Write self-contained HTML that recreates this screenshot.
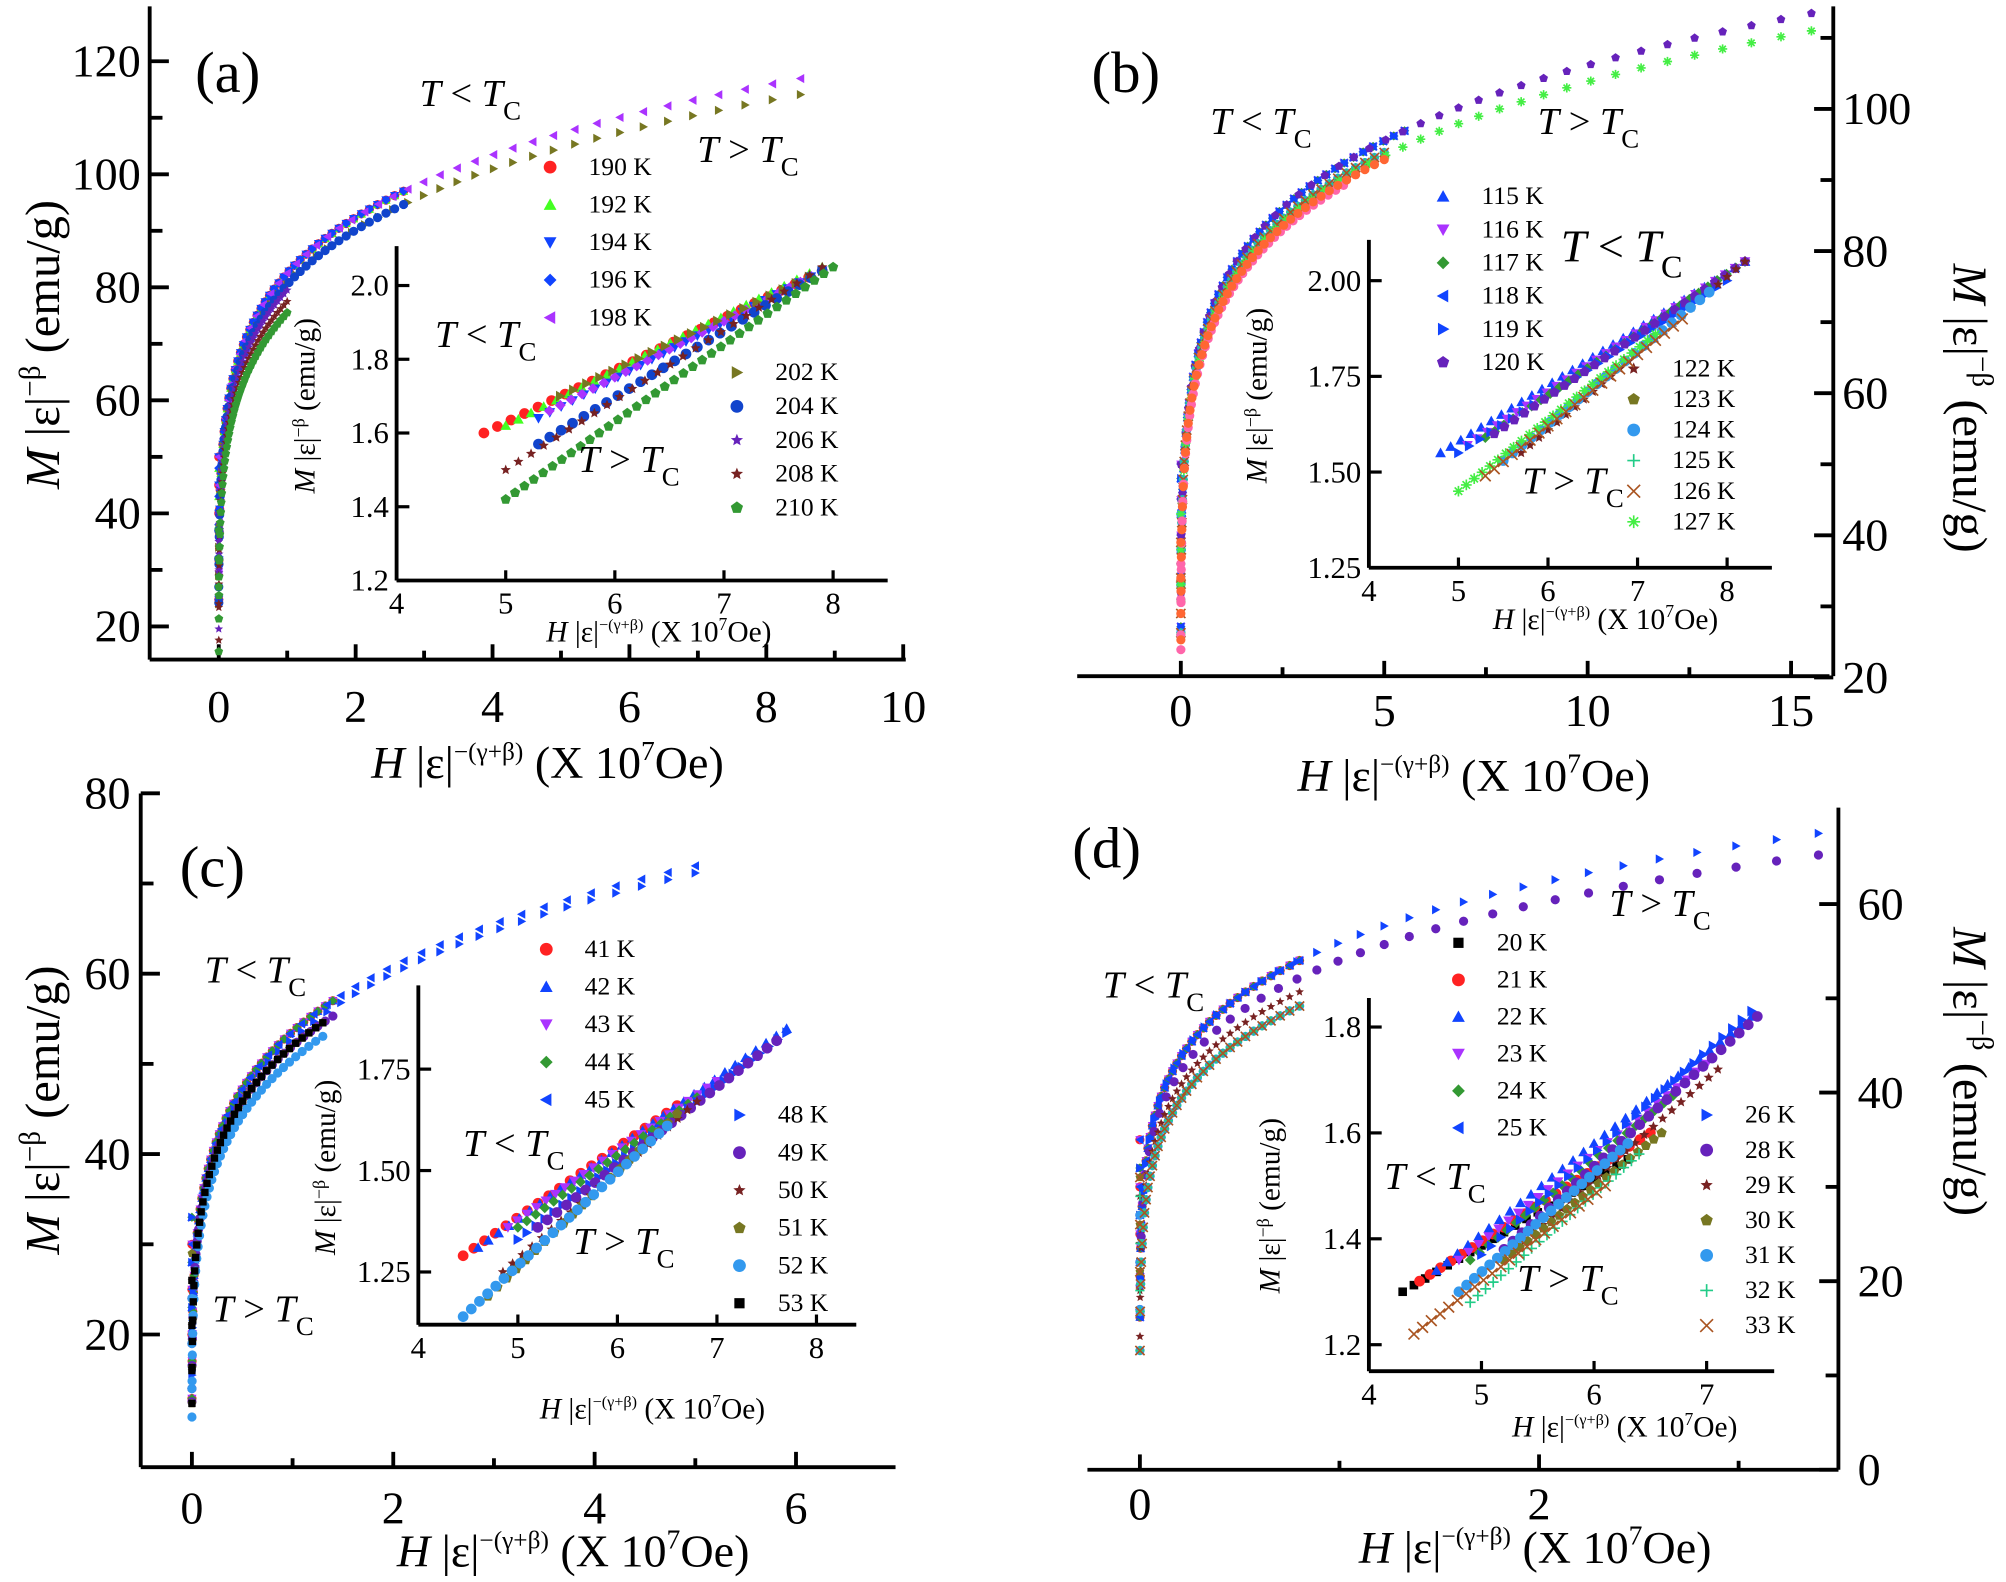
<!DOCTYPE html><html><head><meta charset="utf-8"><style>
html,body{margin:0;padding:0;background:#fff}
svg{display:block}
text{font-family:"Liberation Serif",serif;fill:#000}
</style></head><body>
<svg id="s" width="2006" height="1582" viewBox="0 0 1568 1240" preserveAspectRatio="none" xmlns="http://www.w3.org/2000/svg"></svg>
<script>
const S=document.getElementById('s');let out='';
function L(x1,y1,x2,y2,w){out+=`<line x1="${x1}" y1="${y1}" x2="${x2}" y2="${y2}" stroke="#000" stroke-width="${w||3}"/>`;}
function T(x,y,s,fs,anc,extra){out+=`<text x="${x}" y="${y}" font-size="${fs}" text-anchor="${anc||'middle'}" ${extra||''}>${s}</text>`;}
function mk(shape,x,y,r,c){
 r=r||4;
 if(shape=='o')out+=`<circle cx="${x}" cy="${y}" r="${r}" fill="${c}"/>`;
 else if(shape=='^')out+=`<polygon points="${x},${y-r} ${x+r},${y+r*.8} ${x-r},${y+r*.8}" fill="${c}"/>`;
 else if(shape=='v')out+=`<polygon points="${x},${y+r} ${x+r},${y-r*.8} ${x-r},${y-r*.8}" fill="${c}"/>`;
 else if(shape=='d')out+=`<polygon points="${x},${y-r} ${x+r},${y} ${x},${y+r} ${x-r},${y}" fill="${c}"/>`;
 else if(shape=='<')out+=`<polygon points="${x-r},${y} ${x+r*.8},${y-r} ${x+r*.8},${y+r}" fill="${c}"/>`;
 else if(shape=='>')out+=`<polygon points="${x+r},${y} ${x-r*.8},${y-r} ${x-r*.8},${y+r}" fill="${c}"/>`;
 else if(shape=='p'){let p=[];for(let i=0;i<5;i++){let a=-Math.PI/2+i*2*Math.PI/5;p.push((x+r*Math.cos(a)).toFixed(1)+','+(y+r*Math.sin(a)).toFixed(1));}out+=`<polygon points="${p.join(' ')}" fill="${c}"/>`;}
 else if(shape=='*'){let p=[];for(let i=0;i<10;i++){let a=-Math.PI/2+i*Math.PI/5,rr=i%2?r*.45:r;p.push((x+rr*Math.cos(a)).toFixed(1)+','+(y+rr*Math.sin(a)).toFixed(1));}out+=`<polygon points="${p.join(' ')}" fill="${c}"/>`;}
 else if(shape=='s')out+=`<rect x="${x-r*.8}" y="${y-r*.8}" width="${r*1.6}" height="${r*1.6}" fill="${c}"/>`;
 else if(shape=='+')out+=`<path d="M${x-r} ${y}H${x+r}M${x} ${y-r}V${y+r}" stroke="${c}" stroke-width="1.3"/>`;
 else if(shape=='x')out+=`<path d="M${x-r} ${y-r}L${x+r} ${y+r}M${x-r} ${y+r}L${x+r} ${y-r}" stroke="${c}" stroke-width="1.3"/>`;
 else if(shape=='#')out+=`<path d="M${x-r} ${y}H${x+r}M${x} ${y-r}V${y+r}M${x-r*.7} ${y-r*.7}L${x+r*.7} ${y+r*.7}M${x-r*.7} ${y+r*.7}L${x+r*.7} ${y-r*.7}" stroke="${c}" stroke-width="1.3"/>`;
}
function Mlab(x,y,fs,rot){
 out+=`<text transform="translate(${x},${y}) rotate(${rot})" font-size="${fs}" text-anchor="middle"><tspan font-style="italic">M</tspan> |ε|<tspan dy="${-fs*.4}" font-size="${fs*.6}">−β</tspan><tspan dy="${fs*.4}"> (emu/g)</tspan></text>`;
}
function Hlab(x,y,fs){
 out+=`<text x="${x}" y="${y}" font-size="${fs}" text-anchor="middle"><tspan font-style="italic">H</tspan> |ε|<tspan dy="${-fs*.4}" font-size="${fs*.55}">−(γ+β)</tspan><tspan dy="${fs*.4}"> (X 10</tspan><tspan dy="${-fs*.4}" font-size="${fs*.6}">7</tspan><tspan dy="${fs*.4}">Oe)</tspan></text>`;
}
function TT(x,y,fs,op){
 out+=`<text x="${x}" y="${y}" font-size="${fs}"><tspan font-style="italic">T</tspan> ${op} <tspan font-style="italic">T</tspan><tspan dy="${fs*.35}" font-size="${fs*.7}">C</tspan></text>`;
}
function curve(hx,vy,A,p,hmax,series,ends,n){
 series.forEach((s,k)=>{
  let off=s[2]||0;let he=s[3]||hmax;
  for(let i=1;i<=n;i++){
   let h=he*Math.pow(i/n,2.2);
   let m=A*Math.pow(h,p)-off;
   mk(s[0],hx(h),vy(m),3.6,s[1]);
  }
  for(let j=0;j<3;j++){mk(s[0],hx(0),vy(ends[k%ends.length]+j*5),3.6,s[1]);}
 });
}
function inset(ix,iy,x0,x1,y0,y1,xt,yt,ydec,lines){
 L(ix(x0),iy(y1)-2,ix(x0),iy(y0),3);L(ix(x0),iy(y0),ix(x1),iy(y0),3);
 xt.forEach(v=>{L(ix(v),iy(y0),ix(v),iy(y0)-8,2.5);T(ix(v),iy(y0)+26,v,24);});
 yt.forEach(v=>{L(ix(x0),iy(v),ix(x0)+10,iy(v),2.5);T(ix(x0)-6,iy(v)+8,v.toFixed(ydec),24,'end');});
 lines.forEach(l=>{let [sh,c,xs,ys,xe,ye,n]=l;for(let i=0;i<=n;i++){let t=i/n;let x=xs+(xe-xs)*t;let y=ys+(ye-ys)*t;mk(sh,ix(x),iy(y),4.2,c);}});
}
function legend(x,y,dy,items){items.forEach((it,i)=>{mk(it[0],x,y+i*dy-6,5,it[1]);T(x+30,y+i*dy,it[2],20,'start');});}
function ilab(x,y){out+=`<text transform="translate(${x},${y}) rotate(-90)" font-size="23" text-anchor="middle"><tspan font-style="italic">M</tspan> |ε|<tspan dy="-8" font-size="14">−β</tspan><tspan dy="8"> (emu/g)</tspan></text>`;}

// ---------- Panel (a)
{let hx=h=>171+53.5*h, vy=m=>491-(m-20)*4.43;
 L(117,5,117,517);L(117,517,708,517);
 [0,2,4,6,8,10].forEach(v=>{L(hx(v),517,hx(v),505);T(hx(v),566,v,36);});
 [1,3,5,7,9].forEach(v=>L(hx(v),517,hx(v),510));
 [20,40,60,80,100,120].forEach(v=>{L(117,vy(v),132,vy(v));T(110,vy(v)+12,v,36,'end');});
 [30,50,70,90,110].forEach(v=>L(117,vy(v),127,vy(v)));
 T(178,72,'(a)',46);
 curve(hx,vy,82.5,0.163,2.7,[['o','#f22'],['^','#4f2'],['v','#14f'],['d','#14f'],['<','#a3f',0,8.5]],[40,38],45);
 curve(hx,vy,80.5,0.163,2.7,[['>','#772',0,8.5],['o','#14c'],['*','#62b',1,1],['*','#722',3,1],['p','#393',5,1]],[24,27,30],45);
 Mlab(46,270,38,-90);Hlab(428,610,36);
 TT(328,83,30,'&lt;');TT(545,127,30,'&gt;');
 legend(430,137,29.5,[['o','#f22','190 K'],['^','#4f2','192 K'],['v','#14f','194 K'],['d','#14f','196 K'],['<','#a3f','198 K']]);
 legend(576,298,26.5,[['>','#772','202 K'],['o','#14c','204 K'],['*','#62b','206 K'],['*','#722','208 K'],['p','#393','210 K']]);
 let ix=x=>310+85.3*(x-4), iy=y=>455-(y-1.2)*289;
 inset(ix,iy,4,8.5,1.2,2.1,[4,5,6,7,8],[1.2,1.4,1.6,1.8,2.0],1,[
  ['o','#f22',4.8,1.6,7.9,2.04,25],['^','#4f2',5.0,1.62,7.9,2.05,25],['v','#14f',5.3,1.64,7.9,2.04,25],['d','#a3f',5.4,1.66,7.9,2.04,25],
  ['>','#772',5.5,1.7,7.9,2.04,20],['o','#14c',5.3,1.57,7.9,2.04,25],['*','#722',5.0,1.5,7.9,2.05,25],['p','#393',5.0,1.42,8.0,2.05,35]]);
 ilab(246,318);
 Hlab(515,503,23);TT(340,272,30,'&lt;');TT(452,370,30,'&gt;');
}
// ---------- Panel (b)
{let hx=h=>923+31.8*h, vy=m=>531-(m-20)*5.57;
 L(1433,5,1433,530);L(842,530,1430,530);
 [0,5,10,15].forEach(v=>{L(hx(v),530,hx(v),518);T(hx(v),569,v,36);});
 [2.5,7.5,12.5].forEach(v=>L(hx(v),530,hx(v),523));
 [20,40,60,80,100].forEach(v=>{L(1433,vy(v),1418,vy(v));T(1440,vy(v)+12,v,36,'start');});
 [30,50,70,90,110].forEach(v=>L(1433,vy(v),1423,vy(v)));
 T(880,72,'(b)',46);
 curve(hx,vy,74.8,0.152,5.5,[['^','#14f'],['v','#a3f'],['d','#393'],['<','#14f'],['>','#14f'],['p','#62b',0,15.5]],[38,40],45);
 curve(hx,vy,73.5,0.152,5,[['*','#722'],['p','#772'],['o','#39e'],['+','#2c8'],['x','#a52'],['#','#4e4',0.5,15.5],['o','#f6a',1.5,4],['o','#f63',1,5]],[26,29,33],45);
 Mlab(1527,320,38,90);Hlab(1152,620,36);
 TT(946,105,30,'&lt;');TT(1202,105,30,'&gt;');
 legend(1128,160,26,[['^','#14f','115 K'],['v','#a3f','116 K'],['d','#393','117 K'],['<','#14f','118 K'],['>','#14f','119 K'],['p','#62b','120 K']]);
 legend(1277,295,24,[['*','#722','122 K'],['p','#772','123 K'],['o','#39e','124 K'],['+','#2c8','125 K'],['x','#a52','126 K'],['#','#4e4','127 K']]);
 let ix=x=>1070+70*(x-4), iy=y=>445-(y-1.25)*300;
 inset(ix,iy,4,8.5,1.25,2.1,[4,5,6,7,8],[1.25,1.5,1.75,2.0],2,[
  ['^','#14f',4.8,1.55,8.2,2.05,30],['v','#a3f',5.1,1.57,8.2,2.05,28],['d','#393',5.3,1.59,8.2,2.05,28],['>','#14f',5.0,1.55,8.0,2.0,25],['p','#62b',5.4,1.6,8.2,2.05,25],
  ['*','#722',5.7,1.55,8.2,2.05,25],['o','#39e',5.5,1.53,7.8,1.97,22],['#','#4e4',5.0,1.45,7.2,1.86,25],['x','#a52',5.3,1.49,7.5,1.9,22]]);
 ilab(990,310);
 Hlab(1255,493,23);TT(1220,205,36,'&lt;');TT(1190,387,30,'&gt;');
}
// ---------- Panel (c)
{let hx=h=>150+78.7*h, vy=m=>1046-(m-20)*7.07;
 L(110,622,110,1150);L(110,1150,700,1150);
 [0,2,4,6].forEach(v=>{L(hx(v),1150,hx(v),1138);T(hx(v),1194,v,36);});
 [1,3,5].forEach(v=>L(hx(v),1150,hx(v),1143));
 [20,40,60,80].forEach(v=>{L(110,vy(v),125,vy(v));T(102,vy(v)+12,v,36,'end');});
 [30,50,70].forEach(v=>L(110,vy(v),120,vy(v)));
 T(166,695,'(c)',46);
 curve(hx,vy,53.6,0.183,1.4,[['o','#f22'],['^','#14f'],['v','#a3f'],['d','#393'],['<','#14f',0,5],['>','#14f',0.8,5]],[20,23],40);
 curve(hx,vy,52,0.183,1.3,[['o','#62b',0,1.4],['*','#722'],['p','#772'],['o','#39e',1.5],['s','#000']],[14,16,19],40);
 Mlab(46,870,38,-90);Hlab(448,1228,36);
 TT(160,770,30,'&lt;');TT(166,1036,30,'&gt;');
 legend(427,750,29.5,[['o','#f22','41 K'],['^','#14f','42 K'],['v','#a3f','43 K'],['d','#393','44 K'],['<','#14f','45 K']]);
 legend(578,880,29.5,[['>','#14f','48 K'],['o','#62b','49 K'],['*','#722','50 K'],['p','#772','51 K'],['o','#39e','52 K'],['s','#000','53 K']]);
 let ix=x=>327+77.8*(x-4), iy=y=>997-(y-1.25)*318;
 inset(ix,iy,4,8.4,1.12,1.95,[4,5,6,7,8],[1.25,1.5,1.75],2,[
  ['o','#f22',4.45,1.29,6.6,1.66,20],['^','#14f',4.6,1.31,7.7,1.85,30],['v','#a3f',4.9,1.36,7.0,1.72,22],['d','#393',5.0,1.36,6.8,1.68,20],
  ['>','#14f',5.0,1.33,7.7,1.84,30],['o','#62b',5.2,1.36,7.6,1.82,25],['*','#722',4.85,1.25,6.8,1.67,20],['p','#772',4.7,1.19,6.6,1.64,20],['o','#39e',4.45,1.14,6.5,1.61,25]]);
 ilab(262,915);
 Hlab(510,1112,23);TT(362,906,30,'&lt;');TT(448,983,30,'&gt;');
}
// ---------- Panel (d)
{let hx=h=>891+156*h, vy=m=>1152-m*7.39;
 L(1437,633,1437,1152);L(850,1152,1437,1152);
 [0,2].forEach(v=>{L(hx(v),1152,hx(v),1140);T(hx(v),1191,v,36);});
 [1,3].forEach(v=>L(hx(v),1152,hx(v),1145));
 [0,20,40,60].forEach(v=>{L(1437,vy(v),1422,vy(v));T(1452,vy(v)+12,v,36,'start');});
 [10,30,50].forEach(v=>L(1437,vy(v),1427,vy(v)));
 T(865,680,'(d)',46);
 curve(hx,vy,55.9,0.154,0.8,[['s','#000'],['o','#f22'],['^','#14f'],['v','#a3f'],['d','#393'],['<','#14f'],['>','#14f',0,3.4]],[22,25],35);
 curve(hx,vy,54,0.154,0.8,[['o','#62b',0,3.4],['*','#722',1.5],['p','#772',3],['o','#39e',3],['+','#2c8',3],['x','#a52',3]],[17,19,21],35);
 Mlab(1527,840,38,90);Hlab(1200,1225,36);
 TT(862,782,30,'&lt;');TT(1258,718,30,'&gt;');
 legend(1140,745,29,[['s','#000','20 K'],['o','#f22','21 K'],['^','#14f','22 K'],['v','#a3f','23 K'],['d','#393','24 K'],['<','#14f','25 K']]);
 legend(1334,880,27.5,[['>','#14f','26 K'],['o','#62b','28 K'],['*','#722','29 K'],['p','#772','30 K'],['o','#39e','31 K'],['+','#2c8','32 K'],['x','#a52','33 K']]);
 let ix=x=>1070+88*(x-4), iy=y=>1054-(y-1.2)*415;
 inset(ix,iy,4,7.6,1.15,1.85,[4,5,6,7],[1.2,1.4,1.6,1.8],1,[
  ['s','#000',4.3,1.3,6.3,1.55,20],['o','#f22',4.45,1.32,6.5,1.6,22],['^','#14f',4.6,1.34,7.4,1.82,30],['v','#a3f',4.8,1.36,7.0,1.73,25],['d','#393',4.9,1.36,6.7,1.67,22],
  ['>','#14f',5.0,1.37,7.4,1.83,28],['o','#62b',5.2,1.38,7.45,1.82,28],['*','#722',5.3,1.38,7.1,1.72,22],['p','#772',5.2,1.36,6.6,1.6,20],['o','#39e',4.8,1.3,6.3,1.58,22],['+','#2c8',4.9,1.28,6.4,1.56,22],['x','#a52',4.4,1.22,6.1,1.5,22]]);
 ilab(1000,945);
 Hlab(1270,1126,23);TT(1082,932,30,'&lt;');TT(1186,1012,30,'&gt;');
}
S.innerHTML=out;
</script>
</body></html>
